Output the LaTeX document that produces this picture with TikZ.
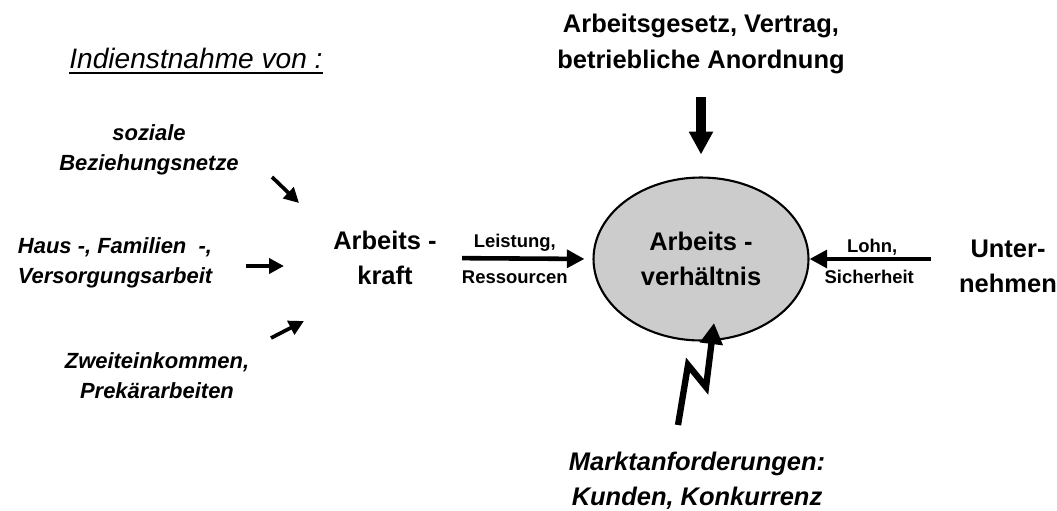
\documentclass[tikz,border=0pt]{standalone}
\usepackage{fontspec}
\setmainfont{Liberation Sans}
\usetikzlibrary{shapes,arrows.meta}

\begin{document}
\begin{tikzpicture}[x=0.02cm,y=-0.02cm,
  gross/.style={font=\fontsize{14.5}{20}\selectfont\bfseries,align=center,inner sep=0pt},
  kursiv/.style={font=\fontsize{12.5}{17}\selectfont\bfseries\itshape,align=center,inner sep=0pt},
  klein/.style={font=\fontsize{10.5}{12}\selectfont\bfseries,inner sep=0pt},
  pfeilchen/.style={line width=2.1pt,-{Triangle[length=8.5pt,width=8.5pt]}},
  pfeil/.style={line width=2.6pt,-{Triangle[length=10pt,width=10pt]}},
  dick/.style={line width=5.5pt,-{Triangle[length=13pt,width=13pt]}},
  blitz/.style={line width=3.6pt,-{Triangle[length=12pt,width=12.5pt]}}]
\useasboundingbox (0,0) rectangle (1057,510);

% Ueberschrift links
\node[font=\fontsize{16}{20}\selectfont\itshape,inner sep=0pt] (titel) at (196,58)
  {Indienstnahme von\ :};
\draw[line width=1.1pt] ([yshift=-3pt]titel.base west) -- ++(254,0);

% Quellen der Arbeitskraft
\node[kursiv] (sozial) at (149,150) {soziale\\Beziehungsnetze};
\node[kursiv] (haus) at (115,263) {Haus -, Familien \ -,\\Versorgungsarbeit};
\node[kursiv] (zweit) at (157,376) {Zweiteinkommen,\\Prekärarbeiten};

\coordinate (s1) at (272,177);
\coordinate (s2) at (299,203);
\coordinate (h1) at (246,266);
\coordinate (h2) at (284,266);
\coordinate (z1) at (271,338);
\coordinate (z2) at (304,321);
\draw[pfeilchen] (s1) -- (s2);
\draw[pfeilchen] (h1) -- (h2);
\draw[pfeilchen] (z1) -- (z2);

% Mitte
\node[gross] (kraft) at (385,258) {Arbeits -\\kraft};
\node[gross,ellipse,draw,line width=1.2pt,fill=black!20,
  minimum width=4.3cm,minimum height=3.26cm] (verh) at (701,259)
  {Arbeits -\\verhältnis};
\node[gross] (unter) at (1008,266) {Unter-\\nehmen};

\node[gross] (gesetz) at (701,44) {Arbeitsgesetz, Vertrag,\\betriebliche Anordnung};
\node[gross,font=\fontsize{14.5}{20}\selectfont\bfseries\itshape] (markt) at (697,481)
  {Marktanforderungen:\\Kunden, Konkurrenz};

% Pfeile
\draw[pfeil,shorten <=0.5cm,shorten >=0.16cm] (kraft.east) --
  node[klein,above=2.7pt] {Leistung,} node[klein,below=5.5pt] {Ressourcen} (verh.west);
\draw[pfeil,shorten <=0.56cm] (unter.west |- verh.east) --
  node[klein,above=0.8pt,pos=0.58] {Lohn,} node[klein,below=5pt,pos=0.6] {Sicherheit} (verh.east);
\draw[dick,shorten <=0.46cm,shorten >=0.44cm] (gesetz.south) -- (verh.north);

\coordinate (b1) at (678,425);
\coordinate (b2) at (688,365);
\coordinate (b3) at (706,387);
\coordinate (b4) at (714,323);
\draw[blitz] (b1) -- (b2) -- (b3) -- (b4);

\end{tikzpicture}
\end{document}
